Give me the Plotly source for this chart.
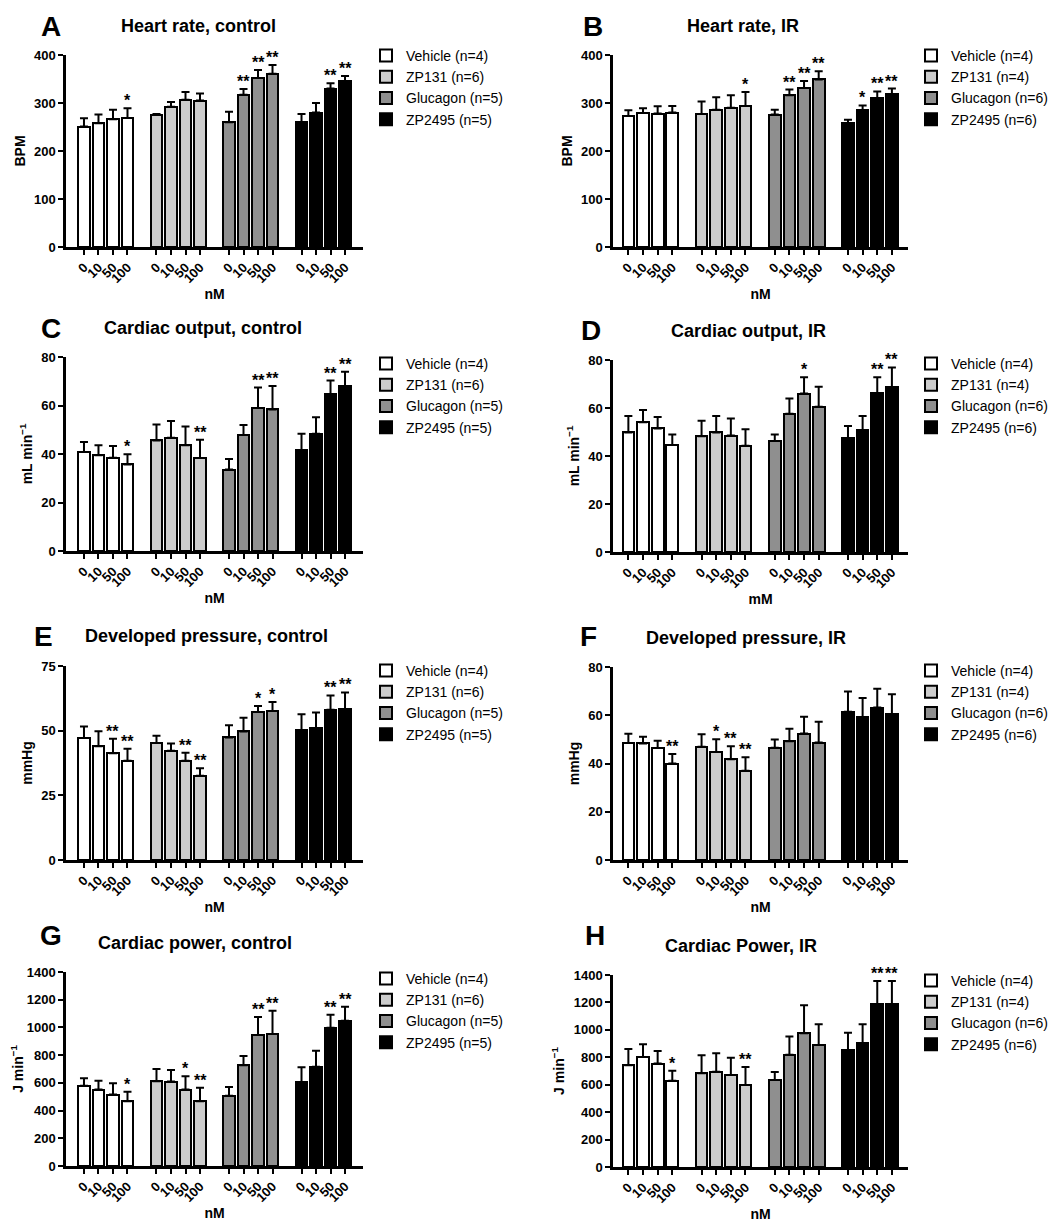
import plotly.graph_objects as go

W, H = 1063, 1222

doses = ["0", "10", "50", "100"]
groups = ["Vehicle", "ZP131", "Glucagon", "ZP2495"]
colors = ["#ffffff", "#cccccc", "#8f8f8f", "#000000"]
n_control = [4, 6, 5, 5]
n_ir = [4, 4, 6, 6]

# A: Heart rate, control (BPM)
hr_control_mean = [[251, 258, 266, 269], [275, 292, 307, 305], [260, 317, 352, 361], [260, 280, 330, 346]]
hr_control_sem = [[17, 18, 20, 20], [2, 10, 16, 15], [22, 12, 17, 18], [17, 20, 11, 10]]
hr_control_sig = [["", "", "", "*"], ["", "", "", ""], ["", "**", "**", "**"], ["", "", "**", "**"]]

# B: Heart rate, IR (BPM)
hr_ir_mean = [[273, 279, 278, 280], [277, 286, 290, 294], [276, 316, 331, 349], [258, 285, 310, 318]]
hr_ir_sem = [[12, 10, 15, 14], [26, 26, 26, 29], [10, 12, 15, 17], [7, 10, 14, 12]]
hr_ir_sig = [["", "", "", ""], ["", "", "", "*"], ["", "**", "**", "**"], ["", "*", "**", "**"]]

# C: Cardiac output, control (mL/min)
co_control_mean = [[40.8, 39.5, 38.5, 35.7], [45.6, 46.7, 43.6, 38.4], [33.6, 47.8, 59.0, 58.4], [41.7, 48.3, 64.6, 68.0]]
co_control_sem = [[4.1, 4.1, 4.8, 4.2], [6.6, 6.9, 7.7, 7.5], [4.3, 4.2, 8.4, 9.6], [6.7, 6.9, 5.7, 5.9]]
co_control_sig = [["", "", "", "*"], ["", "", "", "**"], ["", "", "**", "**"], ["", "", "**", "**"]]

# D: Cardiac output, IR (mL/min)
co_ir_mean = [[49.8, 54.1, 51.5, 44.6], [48.2, 49.8, 48.5, 44.3], [46.2, 57.6, 66.0, 60.5], [47.3, 50.8, 66.3, 68.8]]
co_ir_sem = [[6.9, 5.1, 4.8, 4.4], [6.5, 6.9, 7.1, 6.8], [2.8, 6.4, 6.8, 8.4], [5.2, 5.9, 6.5, 8.1]]
co_ir_sig = [["", "", "", ""], ["", "", "", ""], ["", "", "*", ""], ["", "", "**", "**"]]

# E: Developed pressure, control (mmHg)
dp_control_mean = [[47.2, 44.0, 41.3, 38.4], [45.2, 42.2, 38.4, 32.6], [47.4, 49.7, 57.2, 57.6], [50.1, 50.9, 58.1, 58.4]]
dp_control_sem = [[4.4, 5.8, 5.6, 4.6], [2.8, 2.8, 3.1, 2.9], [4.7, 5.3, 2.3, 3.5], [6.2, 6.1, 5.5, 6.4]]
dp_control_sig = [["", "", "**", "**"], ["", "", "**", "**"], ["", "", "*", "*"], ["", "", "**", "**"]]

# F: Developed pressure, IR (mmHg)
dp_ir_mean = [[48.5, 48.3, 46.4, 40.0], [46.9, 44.8, 41.8, 37.0], [46.5, 49.2, 52.4, 48.7], [61.4, 59.1, 63.2, 60.5]]
dp_ir_sem = [[3.8, 2.8, 3.0, 3.9], [5.2, 5.2, 5.3, 5.6], [3.4, 5.2, 7.0, 8.6], [8.4, 8.1, 7.8, 8.2]]
dp_ir_sig = [["", "", "", "**"], ["", "*", "**", "**"], ["", "", "", ""], ["", "", "", ""]]

# G: Cardiac power, control (J/min)
cp_control_mean = [[580, 552, 516, 468], [611, 609, 552, 468], [507, 727, 945, 952], [607, 717, 997, 1048]]
cp_control_sem = [[53, 64, 81, 67], [89, 84, 95, 96], [63, 67, 131, 168], [105, 115, 94, 101]]
cp_control_sig = [["", "", "", "*"], ["", "", "*", "**"], ["", "", "**", "**"], ["", "", "**", "**"]]

# H: Cardiac power, IR (J/min)
cp_ir_mean = [[742, 802, 754, 629], [684, 694, 670, 598], [634, 818, 976, 890], [854, 902, 1189, 1189]]
cp_ir_sem = [[119, 93, 91, 72], [130, 136, 127, 132], [58, 134, 204, 151], [125, 139, 168, 168]]
cp_ir_sig = [["", "", "", "*"], ["", "", "", "**"], ["", "", "", ""], ["", "", "**", "**"]]

FONT = "Arial, Liberation Sans, Helvetica, sans-serif"

panels = [
    dict(letter="A", title="Heart rate, control", mean=hr_control_mean, sem=hr_control_sem, sig=hr_control_sig,
         ytitle="BPM", yrange=[0, 400], dtick=100, xtitle="nM", n=n_control, side=0, ypix=(47, 239),
         lpos=(43, 18), tpos=(190, 18), legy=57),
    dict(letter="B", title="Heart rate, IR", mean=hr_ir_mean, sem=hr_ir_sem, sig=hr_ir_sig,
         ytitle="BPM", yrange=[0, 400], dtick=100, xtitle="nM", n=n_ir, side=1, ypix=(47, 239),
         lpos=(585, 18), tpos=(735, 18), legy=57),
    dict(letter="C", title="Cardiac output, control", mean=co_control_mean, sem=co_control_sem, sig=co_control_sig,
         ytitle="mL min<sup>−1</sup>", yrange=[0, 80], dtick=20, xtitle="nM", n=n_control, side=0, ypix=(349, 543),
         lpos=(43, 320), tpos=(195, 320), legy=365),
    dict(letter="D", title="Cardiac output, IR", mean=co_ir_mean, sem=co_ir_sem, sig=co_ir_sig,
         ytitle="mL min<sup>−1</sup>", yrange=[0, 80], dtick=20, xtitle="mM", n=n_ir, side=1, ypix=(352, 544),
         lpos=(583, 322), tpos=(740, 323), legy=365),
    dict(letter="E", title="Developed pressure, control", mean=dp_control_mean, sem=dp_control_sem, sig=dp_control_sig,
         ytitle="mmHg", yrange=[0, 75], dtick=25, xtitle="nM", n=n_control, side=0, ypix=(658, 852),
         lpos=(35, 628), tpos=(198, 628), legy=672),
    dict(letter="F", title="Developed pressure, IR", mean=dp_ir_mean, sem=dp_ir_sem, sig=dp_ir_sig,
         ytitle="mmHg", yrange=[0, 80], dtick=20, xtitle="nM", n=n_ir, side=1, ypix=(659, 852),
         lpos=(580, 628), tpos=(738, 630), legy=672),
    dict(letter="G", title="Cardiac power, control", mean=cp_control_mean, sem=cp_control_sem, sig=cp_control_sig,
         ytitle="J min<sup>−1</sup>", yrange=[0, 1400], dtick=200, xtitle="nM", n=n_control, side=0, ypix=(964, 1158),
         lpos=(43, 927), tpos=(187, 935), legy=980),
    dict(letter="H", title="Cardiac Power, IR", mean=cp_ir_mean, sem=cp_ir_sem, sig=cp_ir_sig,
         ytitle="J min<sup>−1</sup>", yrange=[0, 1400], dtick=200, xtitle="nM", n=n_ir, side=1, ypix=(967, 1159),
         lpos=(587, 927), tpos=(733, 938), legy=982),
]

xpix = [(58, 355), (605, 900)]
xranges = [[-1.24, 19.24], [-1.05, 19.1]]
legx = [358, 903]

fig = go.Figure()
annotations = []
layout = dict(width=W, height=H, margin=dict(l=0, r=0, t=0, b=0),
              paper_bgcolor="white", plot_bgcolor="white",
              font=dict(family=FONT, color="black"), showlegend=True, bargap=0)

for k, p in enumerate(panels, start=1):
    xs = "x" if k == 1 else f"x{k}"
    ys = "y" if k == 1 else f"y{k}"
    lg = "legend" if k == 1 else f"legend{k}"
    positions = []
    labels = []
    for g in range(4):
        xpos = [5 * g + i for i in range(4)]
        positions += xpos
        labels += doses
        fig.add_trace(go.Bar(
            x=xpos, y=p["mean"][g], width=0.8,
            name=f"{groups[g]} (n={p['n'][g]})",
            marker=dict(color=colors[g], line=dict(color="black", width=2)),
            error_y=dict(type="data", array=p["sem"][g], arrayminus=[0] * 4, symmetric=False,
                         color="black", thickness=2, width=4),
            xaxis=xs, yaxis=ys, legend=lg, showlegend=True,
        ))
        for i in range(4):
            if p["sig"][g][i]:
                annotations.append(dict(
                    x=xpos[i], y=p["mean"][g][i] + p["sem"][g][i], xref=xs, yref=ys,
                    text=p["sig"][g][i], showarrow=False, yanchor="bottom", yshift=-3,
                    font=dict(family=FONT, size=16, weight="bold", color="black")))
    side = p["side"]
    x0, x1 = xpix[side]
    ytop, ybot = p["ypix"]
    axfont = dict(family=FONT, size=13, weight="bold", color="black")
    titlefont = dict(family=FONT, size=14, weight="bold", color="black")
    layout["xaxis" if k == 1 else f"xaxis{k}"] = dict(
        domain=[x0 / W, x1 / W], range=xranges[side], anchor=ys,
        tickmode="array", tickvals=positions, ticktext=labels, tickangle=-45,
        ticks="outside", ticklen=5, tickwidth=2, tickcolor="black",
        showline=True, linewidth=2.5, linecolor="black", showgrid=False, zeroline=False,
        tickfont=axfont, automargin=False,
        title=dict(text=p["xtitle"], font=titlefont, standoff=1))
    layout["yaxis" if k == 1 else f"yaxis{k}"] = dict(
        domain=[1 - ybot / H, 1 - ytop / H], range=p["yrange"], dtick=p["dtick"], anchor=xs,
        ticks="outside", ticklen=5, tickwidth=2, tickcolor="black",
        showline=True, linewidth=2.5, linecolor="black", showgrid=False, zeroline=False,
        tickfont=axfont, automargin=False,
        title=dict(text=p["ytitle"], font=titlefont, standoff=6))
    layout[lg] = dict(x=legx[side] / W, y=1 - (p["legy"] - 25) / H, xanchor="left", yanchor="top",
                      bgcolor="rgba(0,0,0,0)", font=dict(family=FONT, size=14, color="black"),
                      traceorder="normal")
    annotations.append(dict(x=p["lpos"][0] / W, y=1 - p["lpos"][1] / H, xref="paper", yref="paper",
                            text=p["letter"], showarrow=False, xanchor="center", yanchor="middle",
                            font=dict(family=FONT, size=28, weight="bold", color="black")))
    annotations.append(dict(x=p["tpos"][0] / W, y=1 - p["tpos"][1] / H, xref="paper", yref="paper",
                            text=p["title"], showarrow=False, xanchor="center", yanchor="middle",
                            font=dict(family=FONT, size=18, weight="bold", color="black")))

layout["annotations"] = annotations
fig.update_layout(**layout)
fig.write_html("out.html")
